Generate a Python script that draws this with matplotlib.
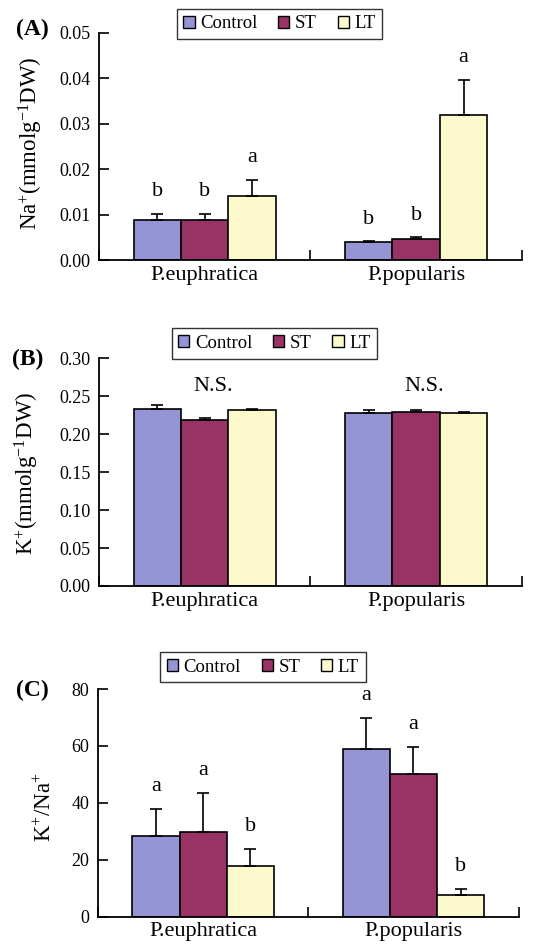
import matplotlib
matplotlib.use("Agg")
import matplotlib.pyplot as plt
import numpy as np
from matplotlib.patches import Patch

plt.rcParams['font.family'] = ['Liberation Serif', 'DejaVu Serif']
plt.rcParams['mathtext.fontset'] = 'custom'
plt.rcParams['mathtext.rm'] = 'Liberation Serif'
plt.rcParams['mathtext.it'] = 'Liberation Serif:italic'
plt.rcParams['mathtext.bf'] = 'Liberation Serif:bold'

species = ["P.euphratica", "P.popularis"]
treatments = ["Control", "ST", "LT"]
colors = ["#9595D5", "#993366", "#FCFACD"]

# Panel A: Na+
na_mean = {"Control": [0.0088, 0.0040], "ST": [0.0088, 0.0047], "LT": [0.0142, 0.0319]}
na_err = {"Control": [0.0013, 0.0001], "ST": [0.0013, 0.0003], "LT": [0.0035, 0.0077]}
na_letters = {"Control": ["b", "b"], "ST": ["b", "b"], "LT": ["a", "a"]}

# Panel B: K+
k_mean = {"Control": [0.2332, 0.2275], "ST": [0.2187, 0.2297], "LT": [0.2319, 0.2280]}
k_err = {"Control": [0.0057, 0.0044], "ST": [0.0030, 0.0022], "LT": [0.0013, 0.0017]}
k_note = ["N.S.", "N.S."]

# Panel C: K+/Na+
r_mean = {"Control": [28.3, 58.8], "ST": [29.9, 50.1], "LT": [17.7, 7.6]}
r_err = {"Control": [9.5, 11.1], "ST": [13.7, 9.6], "LT": [6.2, 2.1]}
r_letters = {"Control": ["a", "a"], "ST": ["a", "a"], "LT": ["b", "b"]}

fig = plt.figure(figsize=(5.38, 9.48), dpi=100)

panels = [
    dict(rect=[0.184, 0.7257, 0.786, 0.2395], mean=na_mean, err=na_err, letters=na_letters,
         ylim=(0, 0.05), yticks=np.arange(0, 0.051, 0.01), fmt="{:.2f}",
         ylabel=r"Na$^{+}$(mmolg$^{\mathrm{-}1}$DW)", ylab=(-0.128, 0.515), tag="(A)", tagpos=(0.030, 0.9694),
         leg=(0.5195, 0.9747)),
    dict(rect=[0.184, 0.3819, 0.786, 0.2402], mean=k_mean, err=k_err, letters=None,
         ylim=(0, 0.30), yticks=np.arange(0, 0.301, 0.05), fmt="{:.2f}",
         ylabel=r"K$^{+}$(mmolg$^{\mathrm{-}1}$DW)", ylab=(-0.136, 0.496), tag="(B)", tagpos=(0.022, 0.621),
         leg=(0.510, 0.6377)),
    dict(rect=[0.182, 0.033, 0.782, 0.2402], mean=r_mean, err=r_err, letters=r_letters,
         ylim=(0, 80), yticks=np.arange(0, 81, 20), fmt="{:.0f}",
         ylabel=r"K$^{+}$/Na$^{+}$", ylab=(-0.100, 0.482), tag="(C)", tagpos=(0.030, 0.272),
         leg=(0.4888, 0.2964)),
]

x = np.arange(len(species))
w = 0.224
offsets = [-w, 0, w]

for p in panels:
    ax = fig.add_axes(p["rect"])
    for i, t in enumerate(treatments):
        m = p["mean"][t]
        e = p["err"][t]
        ax.bar(x + offsets[i], m, width=w, color=colors[i], edgecolor="black", linewidth=1.2, zorder=2)
        ax.errorbar(x + offsets[i], m, yerr=[np.zeros(len(m)), e], fmt="none", ecolor="black",
                    elinewidth=1.2, capsize=4, capthick=1.2, zorder=3)
        if p["letters"] is not None:
            for j in range(len(species)):
                ax.annotate(p["letters"][t][j], (x[j] + offsets[i], m[j] + e[j]),
                            xytext=(0, 16), textcoords="offset points", ha="center", va="center",
                            fontsize=16)
    if p["letters"] is None:
        top = max(max(np.array(p["mean"][t]) + np.array(p["err"][t])) for t in treatments)
        for j in range(len(species)):
            ax.annotate(k_note[j], (x[j] + 0.04, top), xytext=(0, 13), textcoords="offset points",
                        ha="center", va="center", fontsize=16)
    ax.set_xlim(-0.5, 1.5)
    ax.set_ylim(*p["ylim"])
    ax.set_yticks(p["yticks"])
    ax.set_yticklabels([p["fmt"].format(v) for v in p["yticks"]], fontsize=13)
    ax.set_xticks([-0.5, 0.5, 1.5])
    ax.set_xticklabels([])
    ax.set_xticks(x, minor=True)
    ax.set_xticklabels(species, minor=True, fontsize=16)
    ax.tick_params(axis="x", which="minor", length=0, pad=4)
    ax.tick_params(axis="x", which="major", direction="in", length=7, width=1.2)
    ax.tick_params(axis="y", direction="in", length=7, width=1.2, pad=6)
    for s in ["top", "right"]:
        ax.spines[s].set_visible(False)
    for s in ["left", "bottom"]:
        ax.spines[s].set_linewidth(1.3)
    ax.set_ylabel(p["ylabel"], fontsize=16.5)
    ax.yaxis.set_label_coords(*p["ylab"])
    fig.text(p["tagpos"][0], p["tagpos"][1], p["tag"], fontsize=17, fontweight="bold",
             ha="left", va="center")
    handles = [Patch(facecolor=colors[i], edgecolor="black", linewidth=1.0, label=t)
               for i, t in enumerate(treatments)]
    leg = fig.legend(handles=handles, loc="center", bbox_to_anchor=p["leg"], ncol=3,
                     fontsize=13.5, frameon=True, fancybox=False, handlelength=0.6,
                     handleheight=0.6, handletextpad=0.3, columnspacing=1.1,
                     borderpad=0.35, borderaxespad=0)
    leg.get_frame().set_edgecolor("black")
    leg.get_frame().set_linewidth(1.0)

fig.savefig("out.png", dpi=100)
